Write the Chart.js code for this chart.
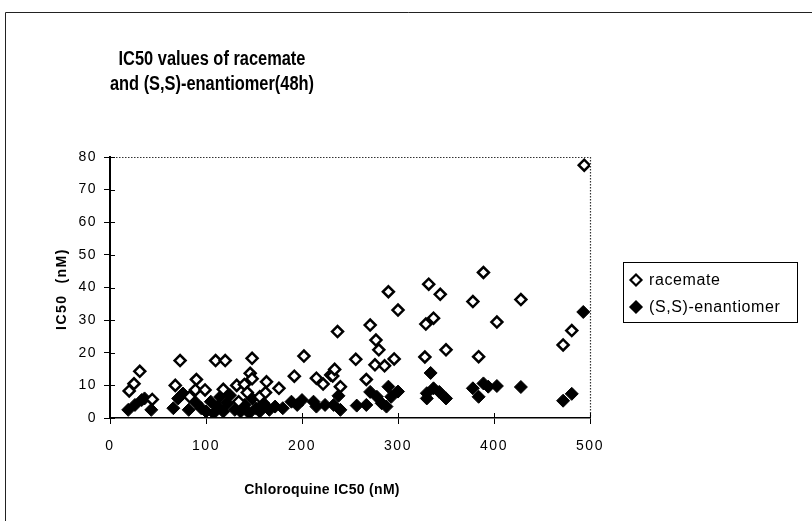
<!DOCTYPE html>
<html>
<head>
<meta charset="utf-8">
<script src="https://cdn.jsdelivr.net/npm/chart.js@4.4.0/dist/chart.umd.min.js"></script>
<style>
html,body{margin:0;padding:0;background:#fff;}
#wrap{position:relative;width:812px;height:521px;}
</style>
</head>
<body>
<div id="wrap"><canvas id="c"></canvas></div>
<script>
const chartTitle = ["IC50 values of racemate", "and (S,S)-enantiomer(48h)"];
const xAxisTitle = "Chloroquine IC50 (nM)";
const yAxisTitle = "IC50  (nM)";
const seriesNames = ["racemate", "(S,S)-enantiomer"];
const xTicks = [0, 100, 200, 300, 400, 500];
const yTicks = [0, 10, 20, 30, 40, 50, 60, 70, 80];

const racemateX = [20, 25, 31, 44, 68, 73, 83, 89, 90, 99, 110, 120, 118, 132, 134, 140, 143, 146, 148, 148, 156, 162, 163, 176, 192, 202, 215, 222, 230, 232, 234, 237, 240, 256, 267, 271, 276, 277, 280, 286, 290, 296, 300, 328, 329, 332, 337, 344, 350, 378, 384, 389, 403, 428, 472, 481, 494];
const racemateY = [8.3, 10.5, 14.3, 5.7, 10, 17.6, 6.5, 8.6, 11.8, 8.6, 17.6, 17.6, 8.8, 10, 5, 10.3, 7.8, 13.7, 12, 18.3, 6.5, 7.8, 11.1, 9.1, 12.8, 19, 12.2, 10.4, 13.2, 12.9, 14.9, 26.5, 9.6, 18, 11.8, 28.5, 16.3, 23.9, 20.9, 16, 38.7, 18.1, 33.1, 18.7, 28.8, 41, 30.6, 37.9, 20.9, 35.7, 18.8, 44.6, 29.4, 36.3, 22.4, 26.8, 77.5];

const enantX = [19, 26, 33, 36, 43, 66, 71, 76, 82, 90, 95, 100, 105, 108, 112, 115, 118, 122, 125, 130, 136, 140, 145, 148, 152, 156, 160, 166, 172, 180, 189, 195, 200, 212, 215, 224, 233, 238, 240, 257, 267, 271, 278, 283, 288, 290, 293, 300, 330, 330, 334, 337, 343, 350, 378, 384, 389, 394, 403, 428, 472, 481, 493];
const enantY = [2.5, 4, 5.5, 6, 2.5, 3, 6, 7.5, 2.5, 4.5, 3, 2, 5, 1.5, 3.5, 6.5, 2, 4.5, 7, 2.5, 2, 4, 1.5, 6, 3, 2, 4.5, 2.5, 3.5, 3, 5, 4, 5.5, 5, 3.5, 4, 4, 6.8, 2.5, 3.8, 4, 8, 6.5, 4.5, 3.5, 9.6, 6.5, 8.1, 6, 7.6, 13.8, 9.1, 8, 6, 9.1, 6.5, 10.6, 9.6, 9.8, 9.5, 5.3, 7.4, 32.5];

const toPoints = (xs, ys) => xs.map((x, i) => ({x: x, y: ys[i]}));

const FONT = "'Liberation Sans', Arial, Helvetica, sans-serif";

const decor = {
  id: 'decor',
  beforeDraw(chart) {
    const ctx = chart.ctx;
    ctx.fillStyle = '#fff';
    ctx.fillRect(0, 0, chart.width, chart.height);
    ctx.letterSpacing = '1.5px';
  },
  afterDraw(chart) {
    const ctx = chart.ctx;
    const a = chart.chartArea;
    const xs = chart.scales.x, ys = chart.scales.y;
    ctx.save();
    // outer frame (top + left)
    ctx.strokeStyle = '#222';
    ctx.lineWidth = 1;
    ctx.beginPath();
    ctx.moveTo(5.5, 521);
    ctx.lineTo(5.5, 12.5);
    ctx.lineTo(812, 12.5);
    ctx.stroke();
    // dotted top and right plot borders
    ctx.setLineDash([1.5, 1.5]);
    ctx.strokeStyle = '#333';
    ctx.lineWidth = 1.2;
    ctx.beginPath();
    ctx.moveTo(a.left, a.top + 0.5);
    ctx.lineTo(a.right + 0.5, a.top + 0.5);
    ctx.lineTo(a.right + 0.5, a.bottom);
    ctx.stroke();
    ctx.setLineDash([]);
    // inward tick parts
    ctx.strokeStyle = '#000';
    ctx.lineWidth = 1;
    ctx.beginPath();
    yTicks.forEach(v => {
      const p = Math.round(ys.getPixelForValue(v)) + 0.5;
      ctx.moveTo(a.left, p); ctx.lineTo(a.left + 5, p);
    });
    xTicks.forEach(v => {
      const p = Math.round(xs.getPixelForValue(v)) + 0.5;
      ctx.moveTo(p, a.bottom); ctx.lineTo(p, a.bottom - 5);
    });
    ctx.stroke();
    // chart title (condensed bold)
    ctx.fillStyle = '#000';
    ctx.textAlign = 'center';
    ctx.textBaseline = 'middle';
    ctx.letterSpacing = '0px';
    ctx.font = "bold 20px " + FONT;
    ctx.save();
    ctx.translate(212, 0);
    ctx.scale(0.82, 1);
    ctx.fillText(chartTitle[0], 0, 59);
    ctx.fillText(chartTitle[1], 0, 84);
    ctx.restore();
    // axis titles
    ctx.font = "bold 14px " + FONT;
    ctx.letterSpacing = '0.3px';
    ctx.fillText(xAxisTitle, 322, 490);
    ctx.save();
    ctx.translate(62, 289);
    ctx.rotate(-Math.PI / 2);
    ctx.letterSpacing = '1.5px';
    ctx.fillText(yAxisTitle, 0, 0);
    ctx.restore();
    // legend
    ctx.letterSpacing = '0.6px';
    ctx.strokeStyle = '#000';
    ctx.lineWidth = 1;
    ctx.strokeRect(623.5, 262.5, 174, 60);
    ctx.textAlign = 'left';
    ctx.font = "16px " + FONT;
    const rows = [280, 307];
    [0, 1].forEach(i => {
      const ds = chart.data.datasets[i];
      const cx = 636, cy = rows[i], r = 5.5;
      ctx.beginPath();
      ctx.moveTo(cx, cy - r); ctx.lineTo(cx + r, cy); ctx.lineTo(cx, cy + r); ctx.lineTo(cx - r, cy); ctx.closePath();
      ctx.fillStyle = ds.backgroundColor;
      ctx.fill();
      ctx.lineWidth = 2.2;
      ctx.strokeStyle = '#000';
      ctx.stroke();
      ctx.fillStyle = '#000';
      ctx.fillText(ds.label, 649, cy + 1);
    });
    ctx.restore();
  }
};

new Chart(document.getElementById('c'), {
  type: 'scatter',
  data: {
    datasets: [
      {
        label: seriesNames[0],
        data: toPoints(racemateX, racemateY),
        pointStyle: 'rectRot',
        pointRadius: 5.5,
        pointHoverRadius: 5.5,
        borderColor: '#000',
        backgroundColor: '#fff',
        pointBorderWidth: 2.5
      },
      {
        label: seriesNames[1],
        data: toPoints(enantX, enantY),
        pointStyle: 'rectRot',
        pointRadius: 6.5,
        pointHoverRadius: 6.5,
        borderColor: '#000',
        backgroundColor: '#000',
        pointBorderWidth: 1
      }
    ]
  },
  options: {
    responsive: true,
    maintainAspectRatio: false,
    animation: false,
    layout: { padding: { left: 0, top: 157, right: 222, bottom: 0 } },
    plugins: {
      legend: { display: false },
      title: { display: false },
      tooltip: { enabled: false }
    },
    scales: {
      x: {
        type: 'linear',
        min: 0, max: 500,
        afterFit: s => { s.height = 103; },
        afterBuildTicks: s => { s.ticks = xTicks.map(v => ({value: v})); },
        ticks: { color: '#000', font: { family: FONT, size: 14 }, padding: 14, maxRotation: 0 },
        grid: { display: true, drawOnChartArea: false, drawTicks: true, tickLength: 6, color: '#000' },
        border: { display: true, color: '#000', width: 1.5, dash: [2, 1] }
      },
      y: {
        type: 'linear',
        min: 0, max: 80,
        afterFit: s => { s.width = 110; },
        afterBuildTicks: s => { s.ticks = yTicks.map(v => ({value: v})); },
        ticks: { color: '#000', font: { family: FONT, size: 14 }, padding: 7 },
        grid: { display: true, drawOnChartArea: false, drawTicks: true, tickLength: 6, color: '#000' },
        border: { display: true, color: '#000', width: 2 }
      }
    }
  },
  plugins: [decor]
});
</script>
</body>
</html>
